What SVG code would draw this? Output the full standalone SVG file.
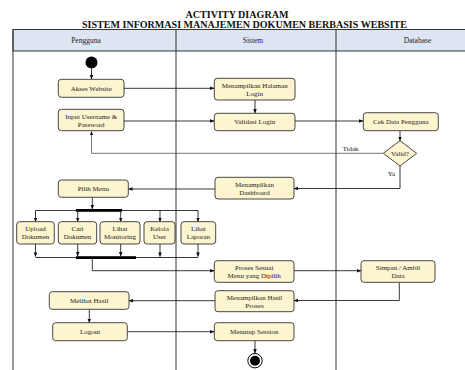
<svg xmlns="http://www.w3.org/2000/svg" width="465" height="370" viewBox="0 0 465 370">
  <defs>
    <marker id="arr" viewBox="0 0 10 10" refX="9" refY="5" markerWidth="5" markerHeight="5" orient="auto-start-reverse">
      <path d="M0,1 L10,5 L0,9 z" fill="#111"/>
    </marker>
    <style>
      .title { font-family: "Liberation Serif", "Times New Roman", serif; font-weight: bold; font-size: 9.5px; fill: #111; text-anchor: middle; }
      .lane-h { font-family: "Liberation Serif", "Times New Roman", serif; font-size: 7.5px; fill: #222; text-anchor: middle; }
      .lbl { font-family: "Liberation Serif", "Times New Roman", serif; font-size: 7px; fill: #222; text-anchor: middle; }
      .node rect { fill: #fdf5d0; stroke: #333; stroke-width: 0.9; }
      .node polygon { fill: #fdf5d0; stroke: #333; stroke-width: 0.9; }
      .lane { fill: none; stroke: #333; stroke-width: 1; }
      .conn { fill: none; stroke: #222; stroke-width: 0.9; }
      .conn-a { fill: none; stroke: #222; stroke-width: 0.9; marker-end: url(#arr); }
      .bar { fill: #000; }
    </style>
  </defs>
  <rect width="465" height="370" fill="#fff"/>

  <!-- title -->
  <text class="title" x="237" y="17.8" textLength="103" lengthAdjust="spacingAndGlyphs">ACTIVITY DIAGRAM</text>
  <text class="title" x="244.5" y="28.4" textLength="325" lengthAdjust="spacingAndGlyphs">SISTEM INFORMASI MANAJEMEN DOKUMEN BERBASIS WEBSITE</text>

  <!-- swimlanes -->
  <g id="lanes">
    <rect x="13" y="29.5" width="460" height="21.5" fill="#dde5f2" stroke="#333" stroke-width="1"/>
    <line class="lane" x1="13" y1="29.5" x2="13" y2="372"/>
    <line class="lane" x1="176" y1="29.5" x2="176" y2="372"/>
    <line class="lane" x1="336" y1="29.5" x2="336" y2="372"/>
    <text class="lane-h" x="86" y="43">Pengguna</text>
    <text class="lane-h" x="253" y="43">Sistem</text>
    <text class="lane-h" x="417.5" y="43">Database</text>
  </g>

  <!-- connectors -->
  <g id="connectors">
    <line class="conn-a" x1="91.5" y1="68.5" x2="91.5" y2="79"/>
    <line class="conn-a" x1="124" y1="88.3" x2="214" y2="88.3"/>
    <line class="conn-a" x1="255" y1="100" x2="255" y2="113"/>
    <line class="conn-a" x1="124" y1="121" x2="214" y2="121"/>
    <line class="conn-a" x1="295" y1="121" x2="363" y2="121"/>
    <line class="conn-a" x1="400" y1="131" x2="400" y2="140.7"/>
    <!-- Tidak branch -->
    <polyline fill="none" stroke="#555" stroke-width="0.8" points="383.3,153.3 91.5,153.3 91.5,131.5" marker-end="url(#arr)"/>
    <!-- Ya branch -->
    <polyline class="conn-a" points="400,166 400,188.5 294,188.5"/>
    <line class="conn-a" x1="215" y1="189" x2="128.5" y2="189"/>
    <!-- fork -->
    <line class="conn-a" x1="92.3" y1="197.3" x2="92.3" y2="209"/>
    <line class="conn" x1="35.5" y1="210.5" x2="198" y2="210.5"/>
    <rect class="bar" x="76" y="209" width="46" height="2.8"/>
    <line class="conn-a" x1="35.5" y1="210.5" x2="35.5" y2="221.7"/>
    <line class="conn-a" x1="77.7" y1="210.5" x2="77.7" y2="221.7"/>
    <line class="conn-a" x1="120.7" y1="210.5" x2="120.7" y2="221.7"/>
    <line class="conn-a" x1="160" y1="210.5" x2="160" y2="221.7"/>
    <line class="conn-a" x1="198" y1="210.5" x2="198" y2="221.7"/>
    <!-- join -->
    <line class="conn-a" x1="35.5" y1="244" x2="35.5" y2="256.5"/>
    <line class="conn-a" x1="77.7" y1="244" x2="77.7" y2="256"/>
    <line class="conn-a" x1="120.7" y1="244" x2="120.7" y2="256"/>
    <line class="conn-a" x1="160" y1="244" x2="160" y2="256.5"/>
    <line class="conn-a" x1="198" y1="244" x2="198" y2="256.5"/>
    <line class="conn" x1="35.5" y1="257.5" x2="198" y2="257.5"/>
    <rect class="bar" x="76" y="256.2" width="60" height="2.8"/>
    <polyline class="conn-a" points="92.3,259 92.3,270.7 214,270.7"/>
    <line class="conn-a" x1="294" y1="270.7" x2="361" y2="270.7"/>
    <polyline class="conn-a" points="399.3,282.3 399.3,300.5 294,300.5"/>
    <line class="conn-a" x1="215" y1="300.7" x2="129" y2="300.7"/>
    <line class="conn-a" x1="89.3" y1="309.3" x2="89.3" y2="322.7"/>
    <line class="conn-a" x1="127.3" y1="331.7" x2="214" y2="331.7"/>
    <line class="conn-a" x1="255" y1="340.7" x2="255" y2="353"/>
    <text class="lbl" x="350.5" y="150.5">Tidak</text>
    <text class="lbl" x="391.5" y="176">Ya</text>
  </g>

  <!-- nodes -->
  <g id="start"><circle cx="91.5" cy="62.5" r="6" fill="#000"/></g>

  <g id="akses-website" class="node">
    <rect x="58.3" y="79.3" width="65.7" height="18" rx="3"/>
    <text class="lbl" x="91.2" y="90.8">Akses Website</text>
  </g>

  <g id="input-login" class="node">
    <rect x="58.3" y="109.3" width="65.7" height="21.4" rx="3"/>
    <text class="lbl" x="91.2" y="118.5">Input Username &amp;</text>
    <text class="lbl" x="91.2" y="126.5">Password</text>
  </g>

  <g id="halaman-login" class="node">
    <rect x="214.3" y="78.3" width="80.7" height="21.7" rx="3"/>
    <text class="lbl" x="254.7" y="87.5">Menampilkan Halaman</text>
    <text class="lbl" x="254.7" y="95.5">Login</text>
  </g>

  <g id="validasi-login" class="node">
    <rect x="214.3" y="113.3" width="80.7" height="17.4" rx="3"/>
    <text class="lbl" x="254.7" y="124.3">Validasi Login</text>
  </g>

  <g id="cek-data" class="node">
    <rect x="363.3" y="112.7" width="75" height="18" rx="3"/>
    <text class="lbl" x="400.8" y="124">Cek Data Pengguna</text>
  </g>

  <g id="valid" class="node">
    <polygon points="400,140.7 416.7,153.3 400,166 383.3,153.3"/>
    <text class="lbl" x="400" y="155.8">Valid?</text>
  </g>

  <g id="dashboard" class="node">
    <rect x="215" y="177.3" width="79" height="21.7" rx="3"/>
    <text class="lbl" x="254.5" y="186.5">Menampilkan</text>
    <text class="lbl" x="254.5" y="194.5">Dashboard</text>
  </g>

  <g id="pilih-menu" class="node">
    <rect x="58.3" y="180" width="70" height="17.3" rx="3"/>
    <text class="lbl" x="93.3" y="191">Pilih Menu</text>
  </g>

  <g id="upload-dokumen" class="node">
    <rect x="16.7" y="221.7" width="37.6" height="22.3" rx="3"/>
    <text class="lbl" x="35.5" y="231">Upload</text>
    <text class="lbl" x="35.5" y="239">Dokumen</text>
  </g>

  <g id="cari-dokumen" class="node">
    <rect x="58.3" y="221.7" width="38.4" height="22.3" rx="3"/>
    <text class="lbl" x="77.5" y="231">Cari</text>
    <text class="lbl" x="77.5" y="239">Dokumen</text>
  </g>

  <g id="lihat-monitoring" class="node">
    <rect x="100" y="221.7" width="40" height="22.3" rx="3"/>
    <text class="lbl" x="120" y="231">Lihat</text>
    <text class="lbl" x="120" y="239">Monitoring</text>
  </g>

  <g id="kelola-user" class="node">
    <rect x="144" y="221.7" width="31" height="22.3" rx="3"/>
    <text class="lbl" x="159.5" y="231">Kelola</text>
    <text class="lbl" x="159.5" y="239">User</text>
  </g>

  <g id="lihat-laporan" class="node">
    <rect x="181" y="221.7" width="34.7" height="22.3" rx="3"/>
    <text class="lbl" x="198.3" y="231">Lihat</text>
    <text class="lbl" x="198.3" y="239">Laporan</text>
  </g>

  <g id="proses-menu" class="node">
    <rect x="214.3" y="260.7" width="79.7" height="21.6" rx="3"/>
    <text class="lbl" x="254.2" y="269.5">Proses Sesuai</text>
    <text class="lbl" x="254.2" y="277.7">Menu yang Dipilih</text>
  </g>

  <g id="simpan-ambil" class="node">
    <rect x="361" y="260.7" width="74" height="21.6" rx="3"/>
    <text class="lbl" x="398" y="269.5">Simpan / Ambil</text>
    <text class="lbl" x="398" y="277.7">Data</text>
  </g>

  <g id="hasil-proses" class="node">
    <rect x="215" y="290.7" width="79" height="21" rx="3"/>
    <text class="lbl" x="254.5" y="299.5">Menampilkan Hasil</text>
    <text class="lbl" x="254.5" y="307.5">Proses</text>
  </g>

  <g id="melihat-hasil" class="node">
    <rect x="49.3" y="291.7" width="79.7" height="17.6" rx="3"/>
    <text class="lbl" x="89.2" y="302.8">Melihat Hasil</text>
  </g>

  <g id="logout" class="node">
    <rect x="52.7" y="322.7" width="74.6" height="18" rx="3"/>
    <text class="lbl" x="90" y="334">Logout</text>
  </g>

  <g id="menutup-session" class="node">
    <rect x="214.3" y="322.7" width="79.7" height="18" rx="3"/>
    <text class="lbl" x="254.2" y="334">Menutup Session</text>
  </g>

  <g id="end">
    <circle cx="255" cy="360.7" r="7.2" fill="#fff" stroke="#000" stroke-width="1"/>
    <circle cx="255" cy="360.7" r="5" fill="#000"/>
  </g>
</svg>
